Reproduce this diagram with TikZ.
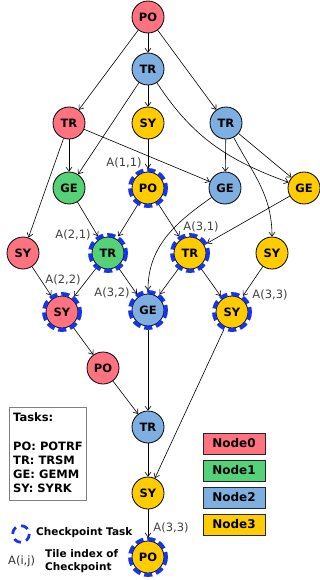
\documentclass[tikz,border=0pt]{standalone}
\usepackage{fontspec}
\setmainfont{DejaVu Sans}
\usetikzlibrary{arrows.meta}
\definecolor{cred}{HTML}{FF7380}
\definecolor{cgreen}{HTML}{55D278}
\definecolor{cblue}{HTML}{7DAFE1}
\definecolor{cyellow}{HTML}{FFCC00}
\definecolor{ckblue}{HTML}{1434F0}
\definecolor{lblgray}{HTML}{404040}
\tikzset{
  task/.style={circle, draw=black, line width=0.8pt, minimum size=32pt, inner sep=0pt,
    font=\fontsize{11.5}{13}\selectfont\bfseries},
  nred/.style={task, fill=cred},
  ngreen/.style={task, fill=cgreen},
  nblue/.style={task, fill=cblue},
  nyellow/.style={task, fill=cyellow},
  ck/.style={outer sep=3.6pt},
  ckring/.style={draw=ckblue, line width=3.8pt, dash pattern=on 8pt off 4pt},
  edge/.style={line width=0.6pt, -{Straight Barb[length=4pt,width=6pt]}},
  idx/.style={font=\fontsize{11.5}{13}\selectfont, text=lblgray, inner sep=0pt},
  legbox/.style={draw=black!85, line width=1pt, minimum width=62pt, minimum height=21pt,
    inner sep=0pt, font=\fontsize{12}{14}\selectfont\bfseries},
  tasktxt/.style={anchor=west, inner sep=0pt, font=\fontsize{11.5}{13}\selectfont\bfseries},
}
\begin{document}
\begin{tikzpicture}[x=1pt,y=-1pt]
\useasboundingbox (0,0) rectangle (320,580);
% nodes
\node[nred] (po0) at (148,17) {PO};
\node[nblue] (tra) at (148,69) {TR};
\node[nred] (tr0) at (69,123) {TR};
\node[nyellow] (sy1) at (148,123) {SY};
\node[nblue] (tr2) at (226,123) {TR};
\node[ngreen] (geg) at (69,188) {GE};
\node[nyellow,ck] (poc) at (148,188) {PO};
\node[nblue] (geb) at (225,188) {GE};
\node[nyellow] (gey) at (304,188) {GE};
\node[nred] (syr) at (23,253) {SY};
\node[ngreen,ck] (trg) at (108,253) {TR};
\node[nyellow,ck] (try) at (190,253) {TR};
\node[nyellow] (syy) at (272,253) {SY};
\node[nred,ck] (syrc) at (62,312) {SY};
\node[nblue,ck] (gebc) at (148,310) {GE};
\node[nyellow,ck] (syyc) at (232,312) {SY};
\node[nred] (por) at (103,368) {PO};
\node[nblue] (trb) at (148,427) {TR};
\node[nyellow] (syyb) at (148,493) {SY};
\node[nyellow,ck] (poyc) at (148,557) {PO};
% checkpoint rings
\foreach \n in {poc,trg,try,syrc,gebc,syyc,poyc}
  \draw[ckring] (\n.center) circle (18);
% edges
\draw[edge] (po0) -- (tra);
\draw[edge] (po0) -- (tr0);
\draw[edge] (po0) -- (tr2);
\draw[edge] (tra) -- (sy1);
\draw[edge] (tra) -- (geg);
\draw[edge] (tra) to[out=-57,in=160] (gey);
\draw[edge] (tr0) -- (geg);
\draw[edge] (tr0) -- (geb);
\draw[edge] (tr0) -- (syr);
\draw[edge] (sy1) -- (poc);
\draw[edge] (tr2) -- (geb);
\draw[edge] (tr2) -- (gey);
\draw[edge] (tr2) to[out=-62,in=90] (syy);
\draw[edge] (geg) -- (trg);
\draw[edge] (poc) -- (trg);
\draw[edge] (poc) -- (try);
\draw[edge] (geb) to[out=-145,in=90] (gebc);
\draw[edge] (gey) -- (try);
\draw[edge] (syr) -- (syrc);
\draw[edge] (trg) -- (syrc);
\draw[edge] (trg) -- (gebc);
\draw[edge] (try) -- (gebc);
\draw[edge] (try) -- (syyc);
\draw[edge] (syy) -- (syyc);
\draw[edge] (syrc) -- (por);
\draw[edge] (por) -- (trb);
\draw[edge] (gebc) -- (trb);
\draw[edge] (syyc) -- (syyb);
\draw[edge] (trb) -- (syyb);
\draw[edge] (syyb) -- (poyc);
% index labels
\node[idx] (l11) at (124,163) {A(1,1)};
\node[idx] (l21) at (73,235) {A(2,1)};
\node[idx] (l31) at (201,227) {A(3,1)};
\node[idx] (l22) at (63,280) {A(2,2)};
\node[idx] (l32) at (112,293) {A(3,2)};
\node[idx] (l33a) at (270,295) {A(3,3)};
\node[idx] (l33b) at (171,528) {A(3,3)};
% tasks box
\draw[draw=black!50, line width=0.8pt] (9,407) rectangle (86,500);
\node[tasktxt] (tasks) at (13,417) {Tasks:};
\node[tasktxt] (tpo) at (13,446) {PO: POTRF};
\node[tasktxt] (ttr) at (13,460) {TR: TRSM};
\node[tasktxt] (tge) at (13,474) {GE: GEMM};
\node[tasktxt] (tsy) at (13,488) {SY: SYRK};
% legend
\node[legbox, fill=cred] (n0) at (234,443.5) {Node0};
\node[legbox, fill=cgreen] (n1) at (234,470.5) {Node1};
\node[legbox, fill=cblue] (n2) at (234,497.5) {Node2};
\node[legbox, fill=cyellow] (n3) at (234,524.5) {Node3};
% checkpoint legend
\draw[draw=ckblue, line width=2.8pt, dash pattern=on 7.5pt off 5.5pt] (21,534) circle (8.3);
\node[anchor=west, inner sep=0pt, font=\fontsize{10.5}{12}\selectfont\bfseries] (ckt) at (36,533) {Checkpoint Task};
\node[idx, anchor=west, text=black!80] (aij) at (8,561) {A(i,j)};
\node[anchor=west, inner sep=0pt, align=left, font=\fontsize{10.5}{12.5}\selectfont\bfseries] (tio) at (45,561) {Tile index of\\Checkpoint};
\end{tikzpicture}
\end{document}
